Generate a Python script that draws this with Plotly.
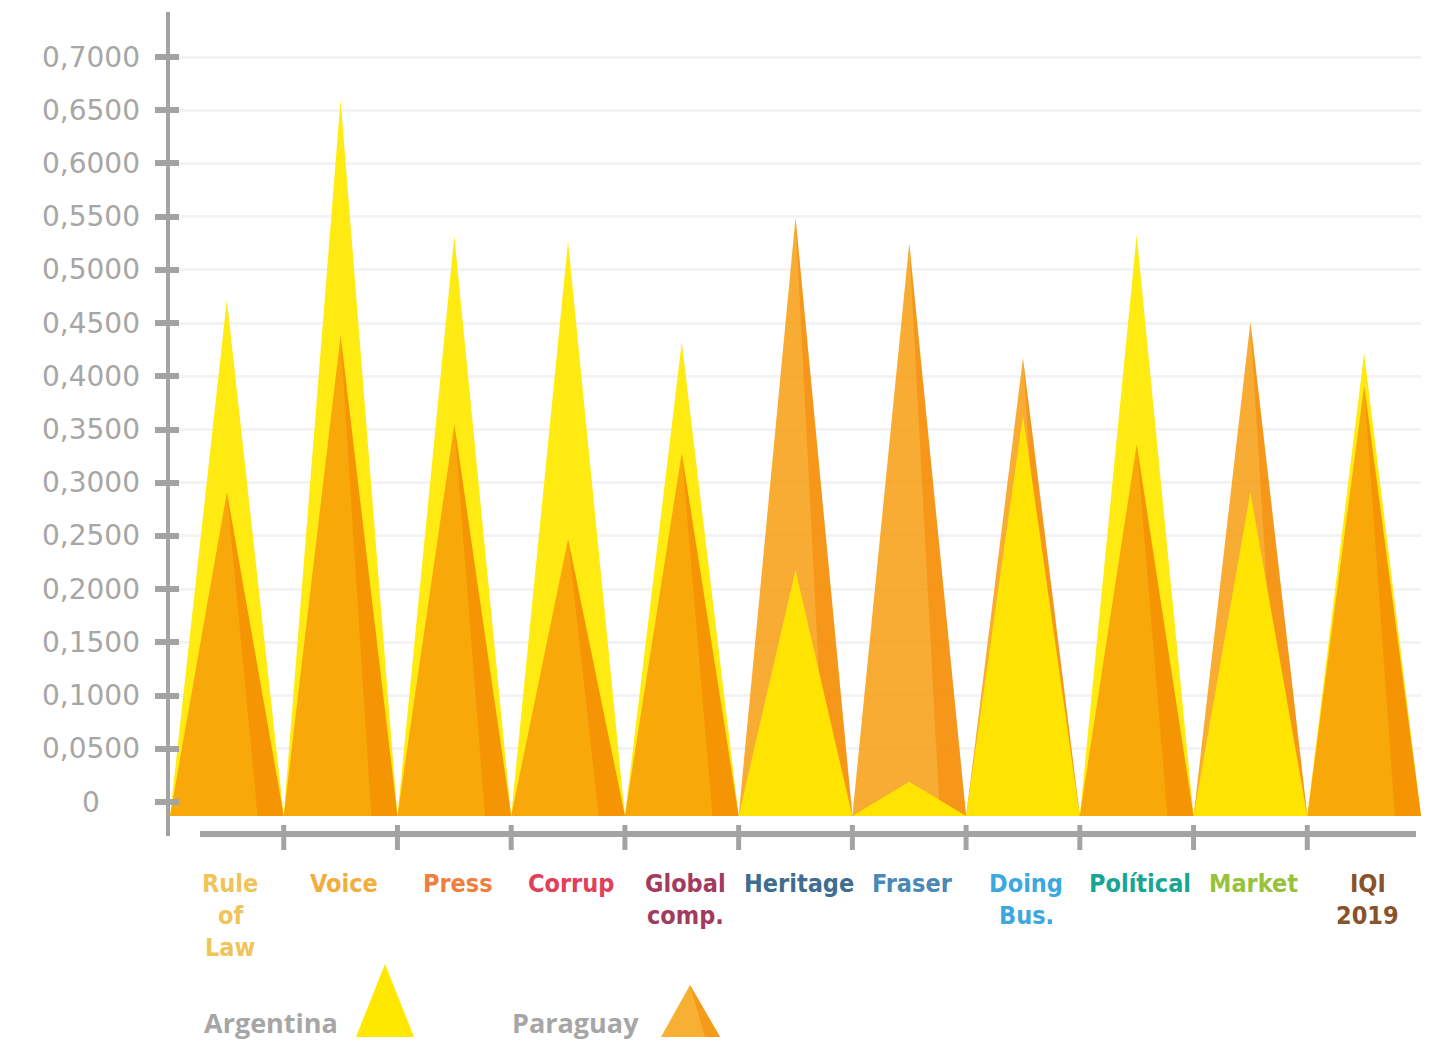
import plotly.graph_objects as go

# ---------------- data ----------------
categories = ["Rule\nof\nLaw", "Voice", "Press", "Corrup", "Global\ncomp.", "Heritage",
              "Fraser", "Doing\nBus.", "Polítical", "Market", "IQI\n2019"]
label_colors = ["#EFC45A", "#F2AE3C", "#EE7F3F", "#E2405A", "#A33A60", "#3E6D90",
                "#4A88B6", "#3DA8DF", "#17A594", "#97C23A", "#88522A"]
argentina = [0.472, 0.660, 0.532, 0.527, 0.432, 0.218, 0.019, 0.363, 0.533, 0.291, 0.422]
paraguay = [0.291, 0.438, 0.355, 0.247, 0.328, 0.549, 0.525, 0.417, 0.336, 0.451, 0.391]
y_ticks = [0.0, 0.05, 0.10, 0.15, 0.20, 0.25, 0.30, 0.35, 0.40, 0.45, 0.50, 0.55, 0.60, 0.65, 0.70]
y_tick_text = ["0", "0,0500", "0,1000", "0,1500", "0,2000", "0,2500", "0,3000", "0,3500",
               "0,4000", "0,4500", "0,5000", "0,5500", "0,6000", "0,6500", "0,7000"]
series_names = ["Argentina", "Paraguay"]

# ---------------- style / layout constants ----------------
W, H = 1439, 1044
L, R, T, B = 170, 18, 12, 208
PW, PH = W - L - R, H - T - B
Y_RANGE = [-0.0319, 0.7423]
BASE = -0.0132
GRAY = "#A3A3A3"
ARG_FILL = "rgba(255,232,0,0.93)"
PAR_FILL = "rgba(247,154,6,0.82)"
PAR_DARK = "rgba(243,130,0,0.5)"
DARK_START = 0.27


def px(x):
    return (x - L) / PW


def py(y):
    return (H - B - y) / PH


fig = go.Figure()

n = len(categories)
for i in range(n):
    items = [("Argentina", argentina[i]), ("Paraguay", paraguay[i])]
    items.sort(key=lambda t: -t[1])  # larger behind, smaller in front
    for name, v in items:
        fig.add_trace(go.Scatter(
            x=[i - 0.5, i, i + 0.5, i - 0.5], y=[BASE, v, BASE, BASE],
            mode="lines", fill="toself",
            fillcolor=ARG_FILL if name == "Argentina" else PAR_FILL,
            line=dict(width=0, color="rgba(0,0,0,0)"),
            showlegend=False, hoverinfo="skip", name=name))
        if name == "Paraguay":
            fig.add_trace(go.Scatter(
                x=[i, i + DARK_START, i + 0.5, i], y=[v, BASE, BASE, v],
                mode="lines", fill="toself", fillcolor=PAR_DARK,
                line=dict(width=0, color="rgba(0,0,0,0)"),
                showlegend=False, hoverinfo="skip", name=name))

# dummy trace for the overlay axis (inside tick halves)
fig.add_trace(go.Scatter(x=[None], y=[None], yaxis="y2", showlegend=False, hoverinfo="skip"))

annotations = []
# y tick labels (centred like the reference)
for v, t in zip(y_ticks, y_tick_text):
    annotations.append(dict(x=px(91), xref="paper", y=v, yref="y", text=t, showarrow=False,
                            xanchor="center", yanchor="middle",
                            font=dict(family="DejaVu Sans", size=28, color="#A6A6A6")))
# category labels
for i, (cat, col) in enumerate(zip(categories, label_colors)):
    for j, line in enumerate(cat.split("\n")):
        annotations.append(dict(x=i + 0.03, xref="x", y=py(883 + 32 * j), yref="paper", text=line,
                                showarrow=False, xanchor="center", yanchor="middle",
                                font=dict(family="DejaVu Sans Condensed, DejaVu Sans", size=25,
                                          color=col, weight="bold")))
# legend texts
for name, xl in zip(series_names, [202, 510]):
    annotations.append(dict(x=px(xl), xref="paper", y=py(1022), yref="paper", text=name,
                            showarrow=False, xanchor="left", yanchor="middle",
                            font=dict(family="Open Sans, DejaVu Sans", size=27, color="#A6A6A6",
                                      weight="bold")))

shapes = []
# x axis line
shapes.append(dict(type="line", xref="paper", yref="paper", x0=px(200), x1=px(1416),
                   y0=py(834), y1=py(834), line=dict(color=GRAY, width=6), layer="above"))
# x ticks at category boundaries
for i in range(n - 1):
    shapes.append(dict(type="line", xref="x", yref="paper", x0=i + 0.5, x1=i + 0.5,
                       y0=py(825), y1=py(850), line=dict(color=GRAY, width=5), layer="above"))


def tri_path(pts):
    return "M " + " L ".join(f"{px(a)},{py(b)}" for a, b in pts) + " Z"


# legend markers
shapes.append(dict(type="path", xref="paper", yref="paper",
                   path=tri_path([(356, 1037), (385, 964), (414, 1037)]),
                   fillcolor="#FFE800", line=dict(width=0)))
shapes.append(dict(type="path", xref="paper", yref="paper",
                   path=tri_path([(661, 1037), (690, 985), (720, 1037)]),
                   fillcolor="#F7B033", line=dict(width=0)))
shapes.append(dict(type="path", xref="paper", yref="paper",
                   path=tri_path([(690, 985), (705, 1037), (720, 1037)]),
                   fillcolor="#F69B19", line=dict(width=0)))

fig.update_layout(
    width=W, height=H,
    margin=dict(l=L, r=R, t=T, b=B, pad=0),
    paper_bgcolor="white", plot_bgcolor="white",
    hovermode=False,
    showlegend=False,
    xaxis=dict(range=[-0.5, n - 0.5], showgrid=False, zeroline=False, showline=False,
               showticklabels=False, ticks="", fixedrange=True),
    yaxis=dict(range=Y_RANGE, tickvals=y_ticks, showticklabels=False, ticks="outside",
               ticklen=11, tickwidth=6, tickcolor=GRAY, showline=True, linewidth=4,
               linecolor=GRAY, showgrid=True, gridcolor="#F3F3F3", gridwidth=3,
               zeroline=False, fixedrange=True),
    yaxis2=dict(range=Y_RANGE, overlaying="y", side="left", tickvals=y_ticks,
                showticklabels=False, ticks="inside", ticklen=9, tickwidth=6, tickcolor=GRAY,
                showline=False, showgrid=False, zeroline=False, fixedrange=True),
    annotations=annotations,
    shapes=shapes,
)

fig.write_html("out.html", config={"displayModeBar": False})
